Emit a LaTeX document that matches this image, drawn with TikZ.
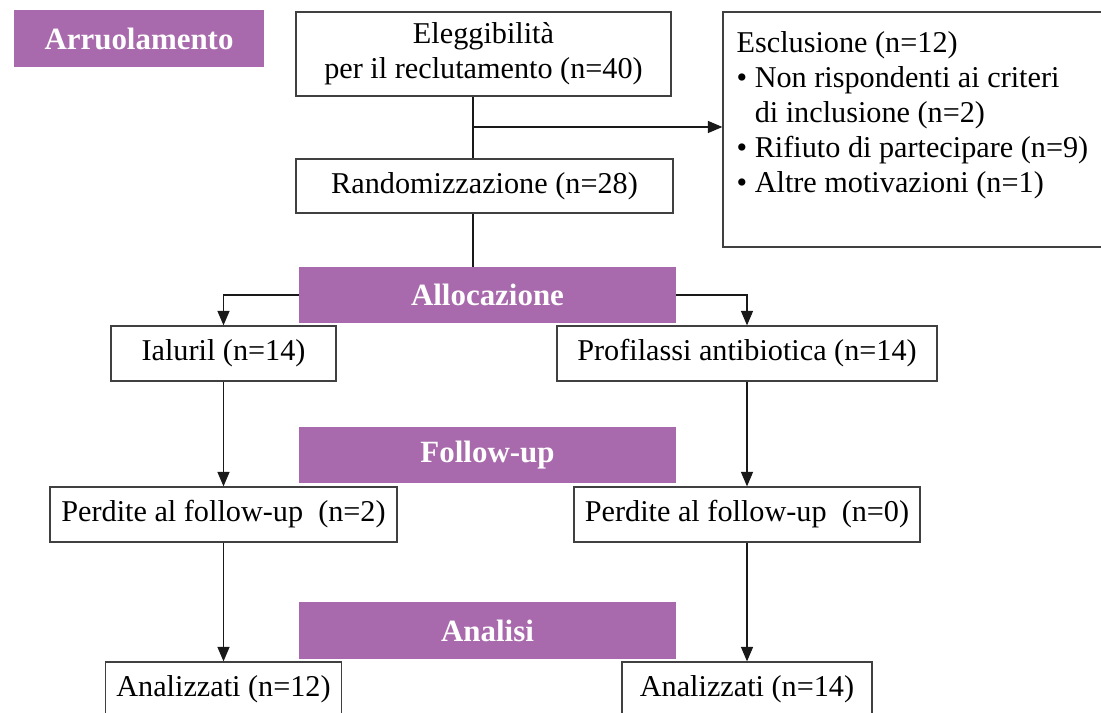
\documentclass[tikz,border=0pt]{standalone}
\usepackage{fontspec}
\setmainfont{Liberation Serif}
\usetikzlibrary{arrows.meta,positioning}
\definecolor{phase}{RGB}{168,106,172}
\tikzset{
  txt/.style={font=\fontsize{21.5pt}{24.9pt}\selectfont},
  box/.style={txt,draw=black!75,line width=0.9pt,inner sep=0pt,minimum height=1.375cm,align=center},
  phasebox/.style={fill=phase,text=white,inner sep=0pt,minimum width=9.425cm,minimum height=1.4cm,font=\fontsize{22pt}{24.9pt}\selectfont\bfseries},
  link/.style={draw=black!90,line width=0.8pt},
  arr/.style={link,-{Triangle[length=3.6mm,width=3mm]}}
}
\begin{document}
\begin{tikzpicture}
  \useasboundingbox (0,0) rectangle (27.525,17.8);
  \node[phasebox,minimum width=6.25cm,minimum height=1.425cm] (arruol) at (3.475,16.8375) {Arruolamento};
  \node[box,minimum width=9.375cm,minimum height=2.1cm] (elig) at (12.0875,16.45) {Eleggibilità\\per il reclutamento (n=40)};
  \node[box,minimum width=9.425cm,minimum height=1.35cm] (rand) at (12.1125,13.15) {Randomizzazione (n=28)};
  \node[box,minimum width=9.8cm,minimum height=5.875cm] (excl) at (22.975,14.5625) {};
  \node[txt,align=left,inner sep=0pt,below right=0.5cm and 0.35cm of excl.north west] (excltxt) {Esclusione (n=12)\\\textbullet\ Non rispondenti ai criteri\\\hphantom{\textbullet\ }di inclusione (n=2)\\\textbullet\ Rifiuto di partecipare (n=9)\\\textbullet\ Altre motivazioni (n=1)};
  \node[phasebox] (alloc) at (12.1875,10.425) {Allocazione};
  \node[box,minimum width=5.625cm] (ialu) at (5.5875,8.9625) {Ialuril (n=14)};
  \node[box,minimum width=9.5cm] (prof) at (18.675,8.9625) {Profilassi antibiotica (n=14)};
  \node[phasebox] (follow) at (12.1875,6.4125) {Follow-up};
  \node[box,minimum width=8.675cm] (lostA) at (5.5875,4.9375) {Perdite al follow-up~\ (n=2)};
  \node[box,minimum width=8.65cm] (lostB) at (18.675,4.9375) {Perdite al follow-up~\ (n=0)};
  \node[phasebox] (analisi) at (12.1875,2.0375) {Analisi};
  \node[box,minimum width=5.9cm] (anaA) at (5.5875,0.5625) {Analizzati (n=12)};
  \node[box,minimum width=6.25cm] (anaB) at (18.675,0.5625) {Analizzati (n=14)};
  \coordinate (split) at (11.825,14.625);
  \draw[link] (elig.south -| split) -- (rand.north -| split);
  \draw[arr] (split) -- (split -| excl.west);
  \draw[link] (rand.south -| split) -- (alloc.north -| split);
  \draw[arr] (alloc.west) -| (ialu.north);
  \draw[arr] (alloc.east) -| (prof.north);
  \draw[arr] (ialu.south) -- (lostA.north);
  \draw[arr] (prof.south) -- (lostB.north);
  \draw[arr] (lostA.south) -- (anaA.north);
  \draw[arr] (lostB.south) -- (anaB.north);
\end{tikzpicture}
\end{document}
